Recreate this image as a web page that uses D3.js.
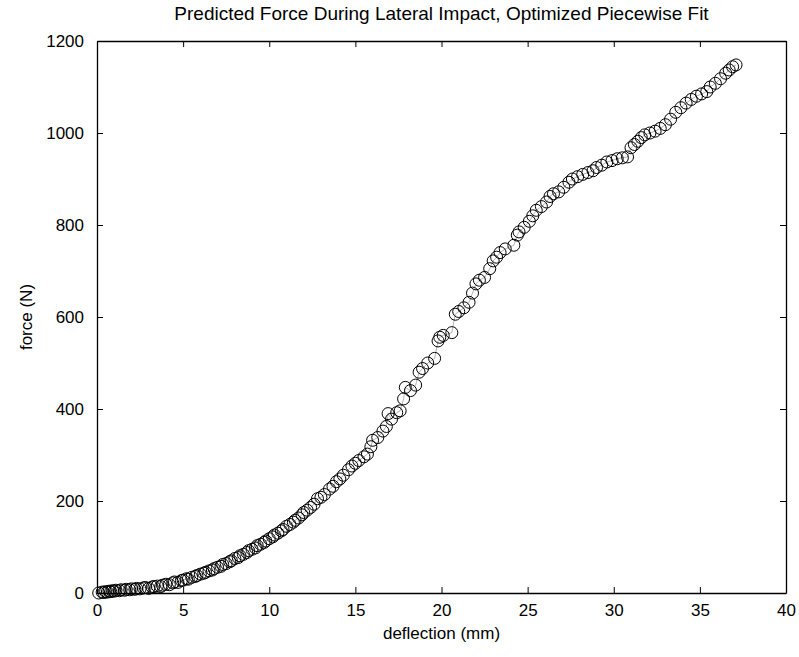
<!DOCTYPE html>
<html>
<head>
<meta charset="utf-8">
<script src="https://cdn.jsdelivr.net/npm/d3@7"></script>
<style>
  body { margin: 0; background: #fff; }
  text { font-family: "Liberation Sans", Arial, sans-serif; fill: #000; }
  .tick-label { font-size: 17px; }
  .axes-labels { font-size: 17px; }
</style>
</head>
<body>
<svg id="chart"></svg>
<script>
// deflection (mm) and predicted force (N)
var deflection = [
  0.1, 0.3, 0.4, 0.5, 0.6, 0.7, 0.8, 0.9, 1.0, 1.1, 1.3, 1.4, 1.6, 1.7, 1.9, 2.0,
  2.2, 2.3, 2.5, 2.7, 2.8, 3.0, 3.2, 3.3, 3.5, 3.7, 3.8, 4.0, 4.2, 4.4, 4.5, 4.7, 4.9,
  5.0, 5.2, 5.3, 5.5, 5.7, 5.8, 6.0, 6.2, 6.3, 6.5, 6.7, 6.8, 7.0, 7.2, 7.3, 7.5,
  7.7, 7.8, 8.0, 8.2, 8.3, 8.5, 8.7, 8.8, 9.0, 9.2, 9.3, 9.5, 9.7, 9.8, 10.0,
  10.2, 10.3, 10.5, 10.7, 10.8, 11.0, 11.2, 11.4, 11.5, 11.7, 11.9, 12.0, 12.2, 12.4,
  12.6, 12.8, 13.0, 13.2, 13.5, 13.7, 13.9, 14.1, 14.3, 14.6, 14.8,
  15.0, 15.2, 15.5, 15.7, 15.9, 16.0, 16.3, 16.6, 16.8, 16.9, 17.1, 17.4, 17.6, 17.8,
  17.9, 18.2, 18.5, 18.7, 18.9, 19.2, 19.6, 19.8, 19.9, 20.1, 20.6, 20.8, 21.0, 21.3,
  21.6, 21.8, 22.0, 22.2, 22.5, 22.8, 23.0, 23.2, 23.4, 23.7, 24.2, 24.4, 24.5, 24.8,
  25.1, 25.3, 25.5, 25.8, 26.1, 26.3, 26.5, 26.8, 27.1, 27.4, 27.6, 27.9, 28.2, 28.5,
  28.8, 29.0, 29.3, 29.6, 29.9, 30.2, 30.5, 30.8, 31.0, 31.2, 31.4, 31.6, 31.8, 32.1,
  32.4, 32.7, 33.0, 33.3, 33.6, 33.9, 34.2, 34.5, 34.8, 35.1, 35.4, 35.6, 35.9, 36.2,
  36.5, 36.7, 36.9, 37.1
];
var force = [
  0, 2, 1, 3, 2, 4, 3, 5, 4, 6, 5, 7, 6, 8, 7, 9,
  8, 10, 9, 11, 12, 10, 13, 14, 15, 14, 17, 19, 18, 22, 24, 23, 27,
  28, 31, 30, 34, 36, 38, 41, 43, 45, 48, 50, 53, 56, 58, 62, 64,
  68, 70, 75, 77, 81, 84, 88, 92, 95, 98, 103, 106, 110, 113, 118,
  122, 126, 130, 135, 138, 145, 149, 154, 158, 163, 170, 175, 180, 186,
  193, 205, 208, 214, 226, 232, 242, 248, 256, 268, 276,
  282, 288, 296, 302, 318, 332, 338, 352, 362, 390, 378, 392, 396, 422,
  447, 440, 452, 480, 488, 500, 510, 548, 556, 560, 566, 606, 612, 620,
  632, 652, 672, 680, 686, 705, 722, 730, 740, 748, 756, 778, 785, 795,
  808, 820, 832, 840, 850, 862, 868, 872, 882, 893, 900, 905, 910, 914,
  918, 925, 930, 937, 940, 944, 946, 948, 968, 975, 982, 990, 996, 1000,
  1004, 1010, 1018, 1030, 1045, 1055, 1065, 1073, 1080, 1085, 1090, 1100, 1108, 1118,
  1130, 1137, 1144, 1148
];
var xTicks = [0, 5, 10, 15, 20, 25, 30, 35, 40];
var yTicks = [0, 200, 400, 600, 800, 1000, 1200];

var width = 799, height = 657;
var margin = { top: 41, right: 13, bottom: 64, left: 97 };

var svg = d3.select("#chart")
  .attr("width", width)
  .attr("height", height);

var x = d3.scaleLinear().domain([0, 40]).range([margin.left, width - margin.right]);
var y = d3.scaleLinear().domain([0, 1200]).range([height - margin.bottom, margin.top]);

var points = deflection.map(function (d, i) { return [d, force[i]]; });

// thin fit line running through the markers
svg.append("path")
  .datum(points)
  .attr("fill", "none")
  .attr("stroke", "#000")
  .attr("stroke-width", 0.5)
  .attr("stroke-opacity", 0.6)
  .attr("d", d3.line().x(function (d) { return x(d[0]); }).y(function (d) { return y(d[1]); }));

svg.append("g")
  .selectAll("circle")
  .data(points)
  .join("circle")
  .attr("cx", function (d) { return x(d[0]); })
  .attr("cy", function (d) { return y(d[1]); })
  .attr("r", 6)
  .attr("fill", "none")
  .attr("stroke", "#000")
  .attr("stroke-width", 1);

// box axes, MATLAB style: ticks point inward on all four sides
function styleAxis(g) {
  g.select(".domain").attr("stroke", "#000").attr("stroke-width", 1.3);
  g.selectAll(".tick line").attr("stroke", "#000");
  g.selectAll(".tick text").attr("class", "tick-label").attr("font-family", null).attr("font-size", null);
}

svg.append("g")
  .attr("transform", "translate(0," + y(0) + ")")
  .call(d3.axisBottom(x).tickValues(xTicks).tickSizeInner(-6).tickSizeOuter(0).tickPadding(11))
  .call(styleAxis);

svg.append("g")
  .attr("transform", "translate(0," + y(1200) + ")")
  .call(d3.axisTop(x).tickValues(xTicks).tickSizeInner(-6).tickSizeOuter(0).tickFormat(""))
  .call(styleAxis);

svg.append("g")
  .attr("transform", "translate(" + x(0) + ",0)")
  .call(d3.axisLeft(y).tickValues(yTicks).tickFormat(d3.format("d")).tickSizeInner(-6).tickSizeOuter(0).tickPadding(13))
  .call(styleAxis);

svg.append("g")
  .attr("transform", "translate(" + x(40) + ",0)")
  .call(d3.axisRight(y).tickValues(yTicks).tickSizeInner(-6).tickSizeOuter(0).tickFormat(""))
  .call(styleAxis);

// title and axis labels
svg.append("text")
  .attr("x", (x(0) + x(40)) / 2)
  .attr("y", 20)
  .style("text-anchor", "middle")
  .style("font-size", "19px")
  .text("Predicted Force During Lateral Impact, Optimized Piecewise Fit");

svg.append("text")
  .attr("x", (x(0) + x(40)) / 2)
  .attr("y", 639)
  .style("text-anchor", "middle")
  .text("deflection (mm)")
  .classed("axes-labels", true);

svg.append("text")
  .attr("transform", "rotate(-90)")
  .attr("x", -(y(0) + y(1200)) / 2)
  .attr("y", 32)
  .style("text-anchor", "middle")
  .text("force (N)")
  .classed("axes-labels", true);
</script>
</body>
</html>
